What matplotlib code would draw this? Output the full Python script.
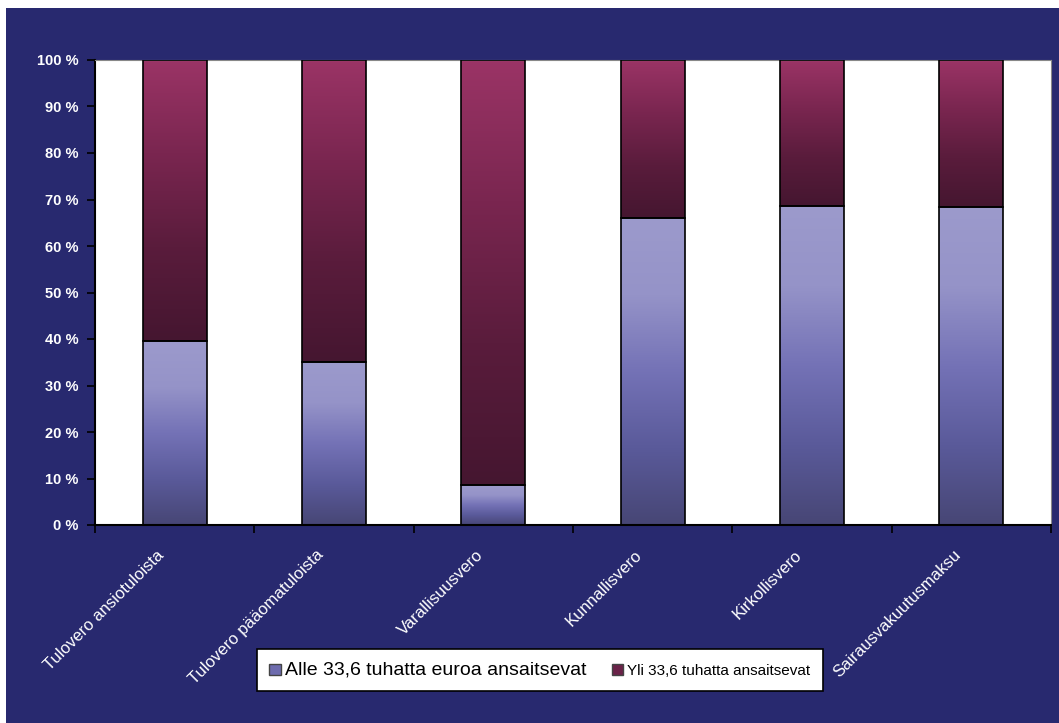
import matplotlib.pyplot as plt
import matplotlib.transforms as mtransforms
import numpy as np
from matplotlib.colors import LinearSegmentedColormap
from matplotlib.patches import Patch, Rectangle

categories = ["Tulovero ansiotuloista", "Tulovero pääomatuloista", "Varallisuusvero",
              "Kunnallisvero", "Kirkollisvero", "Sairausvakuutusmaksu"]
alle = [39.5, 35.0, 8.5, 66.0, 68.5, 68.3]
yli = [100 - v for v in alle]
labels = ["Alle 33,6 tuhatta euroa ansaitsevat", "Yli 33,6 tuhatta ansaitsevat"]

NAVY = "#28296f"
plt.rcParams["font.family"] = ["Liberation Sans", "DejaVu Sans"]

cm_low = LinearSegmentedColormap.from_list("low", ["#474675", "#5a5a9a", "#7472b6", "#9593c8", "#9c9acc"])
cm_high = LinearSegmentedColormap.from_list("high", ["#451630", "#5a1c3c", "#7a2650", "#9b3466"])

fig = plt.figure(figsize=(10.59, 7.23), dpi=100)
fig.patch.set_facecolor("white")
fig.add_artist(Rectangle((6 / 1059, 0), 1, 1 - 8 / 723, transform=fig.transFigure,
                         facecolor=NAVY, edgecolor="none", zorder=-10))

ax = fig.add_axes([95 / 1059, 1 - 525 / 723, (1051 - 95) / 1059, (525 - 60) / 723])
ax.set_facecolor("white")
x = np.arange(len(categories))
w = 0.4
grad = np.linspace(0, 1, 256).reshape(-1, 1)
for i in x:
    ax.imshow(grad, cmap=cm_low, extent=(i - w / 2, i + w / 2, 0, alle[i]),
              origin="lower", aspect="auto", zorder=2)
    ax.imshow(grad, cmap=cm_high, extent=(i - w / 2, i + w / 2, alle[i], alle[i] + yli[i]),
              origin="lower", aspect="auto", zorder=2)
ax.bar(x, alle, w, facecolor="none", edgecolor="black", linewidth=1.2, zorder=3)
ax.bar(x, yli, w, bottom=alle, facecolor="none", edgecolor="black", linewidth=1.2, zorder=3)

ax.set_xlim(-0.5, len(categories) - 0.5)
ax.set_ylim(0, 100)
ax.set_yticks(range(0, 101, 10))
ax.set_yticklabels([f"{v} %" for v in range(0, 101, 10)], color="white",
                   fontsize=10.5, fontweight="bold")
ax.set_xticks(x)
ax.set_xticklabels(categories, rotation=45, ha="right", va="top", rotation_mode="anchor",
                   color="white", fontsize=12)
ax.tick_params(axis="x", length=0, pad=16)
offset = mtransforms.ScaledTranslation(-18 / 100, 0, fig.dpi_scale_trans)
for t in ax.get_xticklabels():
    t.set_transform(t.get_transform() + offset)
ax.set_xticks(np.arange(-0.5, len(categories), 1), minor=True)
ax.tick_params(axis="x", which="minor", length=6, width=1.2, direction="out")
ax.tick_params(axis="y", length=6, width=1.2, direction="out", pad=6)
for s in ["top", "right"]:
    ax.spines[s].set_color("#888888")
for s in ["left", "bottom"]:
    ax.spines[s].set_color("black")
    ax.spines[s].set_linewidth(1.5)

handles = [Patch(facecolor="#6e6cae", edgecolor="#444444"),
           Patch(facecolor="#6a2248", edgecolor="#444444")]
leg = fig.legend(handles, labels, loc="lower left", ncol=2,
                 bbox_to_anchor=(250 / 1059, 1 - 698 / 723, (830 - 250) / 1059, 46 / 723),
                 mode="expand", frameon=True, fancybox=False, framealpha=1,
                 facecolor="white", handlelength=0.8,
                 handleheight=0.8, handletextpad=0.3, borderpad=0.9, columnspacing=1.5)
leg.get_frame().set_edgecolor("black")
leg.get_frame().set_linewidth(1.2)
leg.get_texts()[0].set_fontsize(14)
leg.get_texts()[1].set_fontsize(11)

plt.savefig("out.png", dpi=100, facecolor=fig.get_facecolor())
